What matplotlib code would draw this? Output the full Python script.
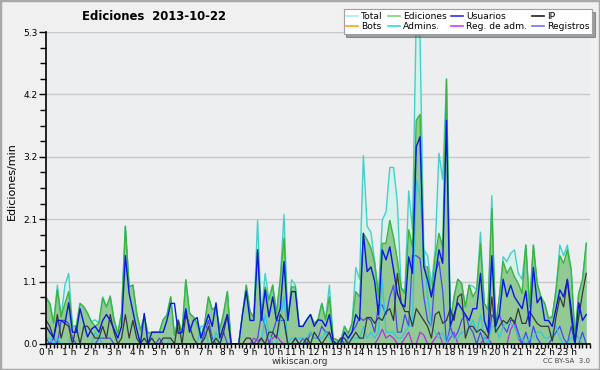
import matplotlib
matplotlib.use('Agg')
import matplotlib.pyplot as plt
from matplotlib.lines import Line2D
from matplotlib.patches import Rectangle
from matplotlib.ticker import MultipleLocator, FixedLocator

# edits per minute, one value per 10 minutes (00:00 .. 23:50)
total = [
    0.80, 0.69, 0.35, 1.00, 0.46, 1.00, 1.20, 0.30, 0.30, 0.69, 0.63, 0.52,
    0.38, 0.41, 0.35, 0.80, 0.63, 0.82, 0.41, 0.18, 0.52, 2.00, 0.97, 1.00,
    0.52, 0.24, 0.46, 0.18, 0.20, 0.20, 0.20, 0.41, 0.49, 0.80, 0.15, 0.41,
    0.18, 1.09, 0.52, 0.46, 0.35, 0.12, 0.35, 0.80, 0.58, 0.63, 0.24, 0.52,
    0.89, 0.00, 0.00, 0.00, 0.50, 1.00, 0.55, 0.45, 2.10, 0.46, 1.20, 0.75,
    1.00, 0.52, 1.10, 2.20, 0.40, 1.09, 1.00, 0.30, 0.30, 0.41, 0.50, 0.35,
    0.41, 0.69, 0.41, 1.00, 0.10, 0.07, 0.04, 0.30, 0.18, 0.35, 1.30, 1.10,
    3.20, 2.00, 1.90, 1.40, 0.85, 2.10, 2.25, 3.00, 3.00, 2.40, 0.95, 0.90,
    2.60, 1.94, 5.60, 5.20, 1.60, 1.50, 1.00, 1.60, 3.24, 2.80, 4.50, 0.35,
    0.80, 1.10, 1.03, 0.63, 1.00, 0.98, 0.92, 1.90, 0.69, 0.58, 2.52, 0.30,
    0.80, 1.48, 1.40, 1.54, 1.60, 1.20, 1.10, 1.68, 0.63, 1.68, 1.03, 0.80,
    0.69, 0.44, 0.46, 0.92, 1.68, 1.50, 1.68, 1.26, 0.12, 0.86, 1.09, 1.71,
]
ediciones = [
    0.78, 0.69, 0.35, 0.92, 0.46, 0.69, 0.89, 0.30, 0.30, 0.69, 0.63, 0.52,
    0.38, 0.30, 0.35, 0.78, 0.63, 0.80, 0.41, 0.18, 0.52, 2.00, 0.97, 1.00,
    0.52, 0.24, 0.46, 0.18, 0.20, 0.20, 0.20, 0.41, 0.49, 0.80, 0.15, 0.41,
    0.18, 1.09, 0.52, 0.46, 0.35, 0.12, 0.35, 0.80, 0.58, 0.63, 0.24, 0.52,
    0.89, 0.00, 0.00, 0.00, 0.50, 1.00, 0.55, 0.45, 1.60, 0.46, 0.97, 0.75,
    1.00, 0.52, 1.09, 1.80, 0.40, 0.97, 0.97, 0.30, 0.30, 0.41, 0.50, 0.35,
    0.41, 0.69, 0.41, 0.80, 0.10, 0.07, 0.04, 0.30, 0.18, 0.35, 0.89, 0.80,
    1.88, 1.77, 1.63, 1.37, 0.80, 1.71, 1.71, 2.10, 1.80, 1.43, 0.95, 0.86,
    1.94, 1.65, 3.80, 3.90, 1.31, 1.31, 0.80, 1.48, 1.88, 1.65, 4.50, 0.35,
    0.80, 1.10, 1.03, 0.63, 1.00, 0.80, 0.92, 1.70, 0.69, 0.58, 2.30, 0.30,
    0.80, 1.40, 1.20, 1.31, 1.14, 1.03, 0.86, 1.68, 0.63, 1.68, 1.03, 0.80,
    0.69, 0.44, 0.46, 0.92, 1.50, 1.37, 1.60, 1.26, 0.12, 0.86, 1.09, 1.71,
]
usuarios = [
    0.30, 0.20, 0.10, 0.40, 0.40, 0.35, 0.70, 0.20, 0.20, 0.60, 0.35, 0.12,
    0.25, 0.30, 0.20, 0.40, 0.50, 0.40, 0.25, 0.10, 0.30, 1.50, 0.86, 0.55,
    0.25, 0.00, 0.52, 0.00, 0.20, 0.20, 0.20, 0.20, 0.40, 0.69, 0.69, 0.18,
    0.20, 0.60, 0.20, 0.40, 0.45, 0.10, 0.30, 0.50, 0.30, 0.70, 0.10, 0.30,
    0.50, 0.00, 0.00, 0.00, 0.50, 0.90, 0.40, 0.40, 1.60, 0.40, 0.92, 0.46,
    0.80, 0.40, 0.60, 1.40, 0.40, 0.89, 0.89, 0.30, 0.30, 0.41, 0.50, 0.30,
    0.41, 0.40, 0.30, 0.50, 0.05, 0.00, 0.00, 0.20, 0.10, 0.20, 0.50, 0.40,
    1.88, 1.23, 1.31, 1.06, 0.49, 1.60, 1.43, 1.65, 1.26, 0.86, 0.69, 0.63,
    1.48, 1.20, 3.35, 3.52, 1.31, 1.09, 0.80, 1.14, 1.60, 1.37, 3.80, 0.30,
    0.50, 0.70, 0.60, 0.50, 0.40, 0.60, 0.60, 1.20, 0.40, 0.20, 1.50, 0.30,
    0.50, 1.10, 0.80, 1.00, 0.80, 0.70, 0.60, 0.90, 0.30, 1.30, 0.70, 0.80,
    0.40, 0.40, 0.30, 0.60, 0.92, 0.80, 1.10, 0.60, 0.00, 0.70, 0.40, 0.50,
]
ip = [
    0.40, 0.30, 0.10, 0.50, 0.10, 0.35, 0.30, 0.00, 0.30, 0.00, 0.30, 0.30,
    0.20, 0.10, 0.10, 0.30, 0.10, 0.50, 0.20, 0.00, 0.10, 0.50, 0.10, 0.40,
    0.10, 0.00, 0.10, 0.00, 0.10, 0.00, 0.00, 0.10, 0.10, 0.10, 0.00, 0.40,
    0.00, 0.50, 0.30, 0.10, 0.00, 0.00, 0.10, 0.30, 0.00, 0.10, 0.00, 0.20,
    0.50, 0.00, 0.00, 0.00, 0.00, 0.10, 0.10, 0.00, 0.00, 0.10, 0.00, 0.20,
    0.20, 0.10, 0.50, 0.40, 0.00, 0.00, 0.10, 0.00, 0.00, 0.10, 0.00, 0.20,
    0.10, 0.00, 0.10, 0.20, 0.00, 0.00, 0.10, 0.10, 0.00, 0.10, 0.20, 0.10,
    0.10, 0.45, 0.45, 0.35, 0.45, 0.40, 0.55, 0.60, 0.40, 1.20, 0.70, 0.55,
    0.55, 0.30, 0.60, 0.50, 0.40, 0.30, 0.10, 0.50, 0.55, 0.35, 0.40, 0.60,
    0.40, 0.80, 0.85, 0.10, 0.30, 0.30, 0.20, 0.25, 0.20, 0.10, 0.80, 0.20,
    0.30, 0.40, 0.35, 0.45, 0.35, 0.60, 0.35, 0.35, 0.55, 0.45, 0.35, 0.30,
    0.30, 0.30, 0.05, 0.46, 0.80, 0.63, 1.09, 0.46, 0.00, 0.46, 0.86, 1.20,
]
bots = [0.0] * 144
admins = [
    0.10, 0.10, 0.00, 0.10, 0.00, 0.00, 0.00, 0.30, 0.30, 0.00, 0.00, 0.00,
    0.00, 0.20, 0.10, 0.00, 0.00, 0.00, 0.00, 0.00, 0.00, 0.00, 0.00, 0.00,
    0.00, 0.00, 0.00, 0.00, 0.00, 0.00, 0.00, 0.00, 0.00, 0.10, 0.00, 0.00,
    0.00, 0.00, 0.00, 0.00, 0.00, 0.30, 0.30, 0.00, 0.00, 0.20, 0.00, 0.00,
    0.00, 0.00, 0.00, 0.00, 0.00, 0.00, 0.00, 0.00, 0.00, 0.00, 0.50, 0.20,
    0.00, 0.00, 0.40, 0.80, 0.00, 0.10, 0.10, 0.10, 0.10, 0.10, 0.20, 0.10,
    0.10, 0.10, 0.20, 0.10, 0.00, 0.00, 0.00, 0.00, 0.10, 0.10, 0.10, 0.10,
    0.30, 0.10, 0.20, 0.10, 0.20, 1.10, 0.20, 0.20, 0.20, 0.10, 0.10, 0.20,
    0.30, 0.30, 2.80, 2.50, 1.60, 0.80, 0.30, 0.20, 0.10, 0.20, 0.00, 0.20,
    0.10, 0.10, 0.20, 0.20, 0.30, 0.40, 0.20, 0.50, 0.10, 0.00, 0.30, 0.30,
    0.10, 0.30, 0.35, 0.35, 0.30, 0.10, 0.10, 0.00, 0.10, 0.10, 0.20, 0.20,
    0.10, 0.10, 0.20, 0.30, 0.10, 0.00, 0.00, 0.10, 0.20, 0.10, 0.00, 0.00,
]
reg_adm = [
    0.00, 0.00, 0.00, 0.00, 0.00, 0.00, 0.00, 0.00, 0.00, 0.00, 0.00, 0.00,
    0.00, 0.00, 0.00, 0.00, 0.00, 0.00, 0.00, 0.00, 0.00, 0.00, 0.00, 0.00,
    0.00, 0.00, 0.00, 0.00, 0.00, 0.00, 0.00, 0.00, 0.00, 0.00, 0.00, 0.00,
    0.00, 0.00, 0.00, 0.00, 0.00, 0.00, 0.00, 0.00, 0.00, 0.00, 0.00, 0.00,
    0.00, 0.00, 0.00, 0.00, 0.00, 0.00, 0.00, 0.10, 0.05, 0.10, 0.00, 0.00,
    0.10, 0.15, 0.05, 0.00, 0.00, 0.00, 0.00, 0.00, 0.00, 0.00, 0.00, 0.00,
    0.00, 0.00, 0.00, 0.00, 0.00, 0.00, 0.00, 0.00, 0.00, 0.00, 0.00, 0.00,
    0.00, 0.00, 0.00, 0.00, 0.10, 0.25, 0.10, 0.15, 0.10, 0.00, 0.00, 0.10,
    0.20, 0.00, 0.00, 0.20, 0.15, 0.00, 0.00, 0.10, 0.20, 0.00, 0.00, 0.10,
    0.20, 0.00, 0.00, 0.00, 0.00, 0.00, 0.00, 0.00, 0.10, 0.10, 0.00, 0.00,
    0.00, 0.00, 0.00, 0.25, 0.35, 0.10, 0.00, 0.00, 0.00, 0.00, 0.00, 0.00,
    0.00, 0.00, 0.00, 0.00, 0.00, 0.00, 0.00, 0.00, 0.00, 0.00, 0.00, 0.00,
]
registros = [
    0.10, 0.00, 0.10, 0.00, 0.40, 0.40, 0.35, 0.10, 0.00, 0.00, 0.00, 0.00,
    0.00, 0.00, 0.10, 0.10, 0.10, 0.10, 0.00, 0.00, 0.00, 0.00, 0.00, 0.00,
    0.00, 0.00, 0.00, 0.00, 0.00, 0.00, 0.10, 0.00, 0.00, 0.00, 0.00, 0.00,
    0.00, 0.00, 0.00, 0.00, 0.00, 0.00, 0.20, 0.40, 0.10, 0.00, 0.00, 0.20,
    0.00, 0.00, 0.00, 0.00, 0.00, 0.00, 0.00, 0.00, 0.10, 0.50, 0.30, 0.00,
    0.20, 0.40, 0.40, 0.40, 0.00, 0.00, 0.10, 0.00, 0.10, 0.00, 0.20, 0.10,
    0.10, 0.30, 0.20, 0.20, 0.00, 0.00, 0.10, 0.00, 0.10, 0.20, 0.30, 0.45,
    0.40, 0.45, 0.40, 0.20, 0.66, 0.66, 0.50, 0.80, 1.00, 0.20, 0.20, 0.50,
    0.30, 1.50, 1.50, 1.45, 0.80, 0.40, 0.30, 1.20, 1.40, 0.90, 0.00, 0.30,
    0.10, 0.20, 0.40, 0.50, 0.30, 0.20, 0.00, 0.20, 0.00, 0.00, 0.50, 0.40,
    0.50, 0.30, 0.20, 0.40, 0.40, 0.20, 0.00, 0.20, 0.00, 0.30, 0.10, 0.00,
    0.00, 0.00, 0.10, 0.20, 0.30, 0.10, 0.00, 0.30, 0.00, 0.00, 0.20, 0.00,
]

hours = [h / 6 for h in range(len(total))]
hour_labels = [f'{h} h' for h in range(24)]
y_ticks = [0.0, 1.06, 2.12, 3.18, 4.24, 5.3]
y_tick_labels = ['0.0', '1.1', '2.1', '3.2', '4.2', '5.3']

fig = plt.figure(figsize=(6, 3.7), dpi=100, facecolor='#f0f0f0')
fig.patches.append(Rectangle((0, 0), 1, 1, transform=fig.transFigure,
                             fill=False, edgecolor='#a8a8a8', lw=2.5))
ax = fig.add_axes([0.0767, 0.0703, 0.9067, 0.8432])
ax.set_facecolor('#edeef0')

ax.fill_between(hours, total, color='#d6f2ec', lw=0)
ax.plot(hours, total, color='#44d0c8', lw=1.0)
ax.fill_between(hours, ediciones, color='#92c994', lw=0)
ax.plot(hours, ediciones, color='#3cb43c', lw=1.0)
ax.plot(hours, bots, color='#ffa020', lw=0.9)
ax.plot(hours, registros, color='#4848f0', lw=0.9)
ax.plot(hours, reg_adm, color='#b030e0', lw=0.9)
ax.plot(hours, admins, color='#30c8e0', lw=0.9)
ax.plot(hours, ip, color='#383838', lw=0.9)
ax.plot(hours, usuarios, color='#0818e0', lw=1.0)

ax.set_xlim(0, 24)
ax.set_ylim(0, 5.3)
ax.spines['top'].set_visible(False)
ax.spines['right'].set_visible(False)
ax.spines['left'].set_linewidth(1.2)
ax.spines['bottom'].set_linewidth(1.2)

ax.xaxis.set_major_locator(FixedLocator(range(24)))
ax.set_xticklabels(hour_labels)
ax.xaxis.set_minor_locator(MultipleLocator(1 / 6))
ax.tick_params(axis='x', which='both', length=3, width=1, pad=0,
               labelsize=6.5, colors='black')
ax.yaxis.set_major_locator(FixedLocator(y_ticks))
ax.set_yticklabels(y_tick_labels)
ax.yaxis.set_minor_locator(MultipleLocator(0.265))
ax.tick_params(axis='y', which='major', length=5, width=1, pad=1,
               labelsize=6.5)
ax.tick_params(axis='y', which='minor', length=4, width=1)
ax.grid(True, axis='y', which='major', color='#c8c8c8', lw=1)
ax.set_axisbelow(True)

fig.text(0.257, 0.955, 'Ediciones  2013-10-22', ha='center', va='center',
         fontsize=8.4, fontweight='bold')
fig.text(0.02, 0.51, 'Ediciones/min', rotation=90, ha='center',
         va='center', fontsize=8)
fig.text(0.5, 0.022, 'wikiscan.org', ha='center', va='center', fontsize=6.5,
         color='#333333')
fig.text(0.983, 0.025, 'CC BY-SA  3.0', ha='right', va='center',
         fontsize=5, color='#444444')

legend_items = [
    ('Total', '#a8eeee'), ('Bots', '#ffa020'),
    ('Ediciones', '#80d080'), ('Admins.', '#30d8e8'),
    ('Usuarios', '#3030f0'), ('Reg. de adm.', '#d040f0'),
    ('IP', '#202020'), ('Registros', '#7070ff'),
]
handles = [Line2D([], [], color=c, lw=1.2) for _, c in legend_items]
labels = [t for t, _ in legend_items]
leg = fig.legend(handles, labels, ncol=4, loc='upper right',
                 bbox_to_anchor=(0.987, 0.975), fontsize=6.6,
                 frameon=True, fancybox=False, shadow=True,
                 handlelength=1.3, handletextpad=0.35, columnspacing=0.5,
                 labelspacing=0.12, borderpad=0.3, borderaxespad=0)
leg.get_frame().set_edgecolor('#a0a0a0')
leg.get_frame().set_linewidth(0.8)

fig.savefig('out.png', dpi=100, facecolor=fig.get_facecolor())
